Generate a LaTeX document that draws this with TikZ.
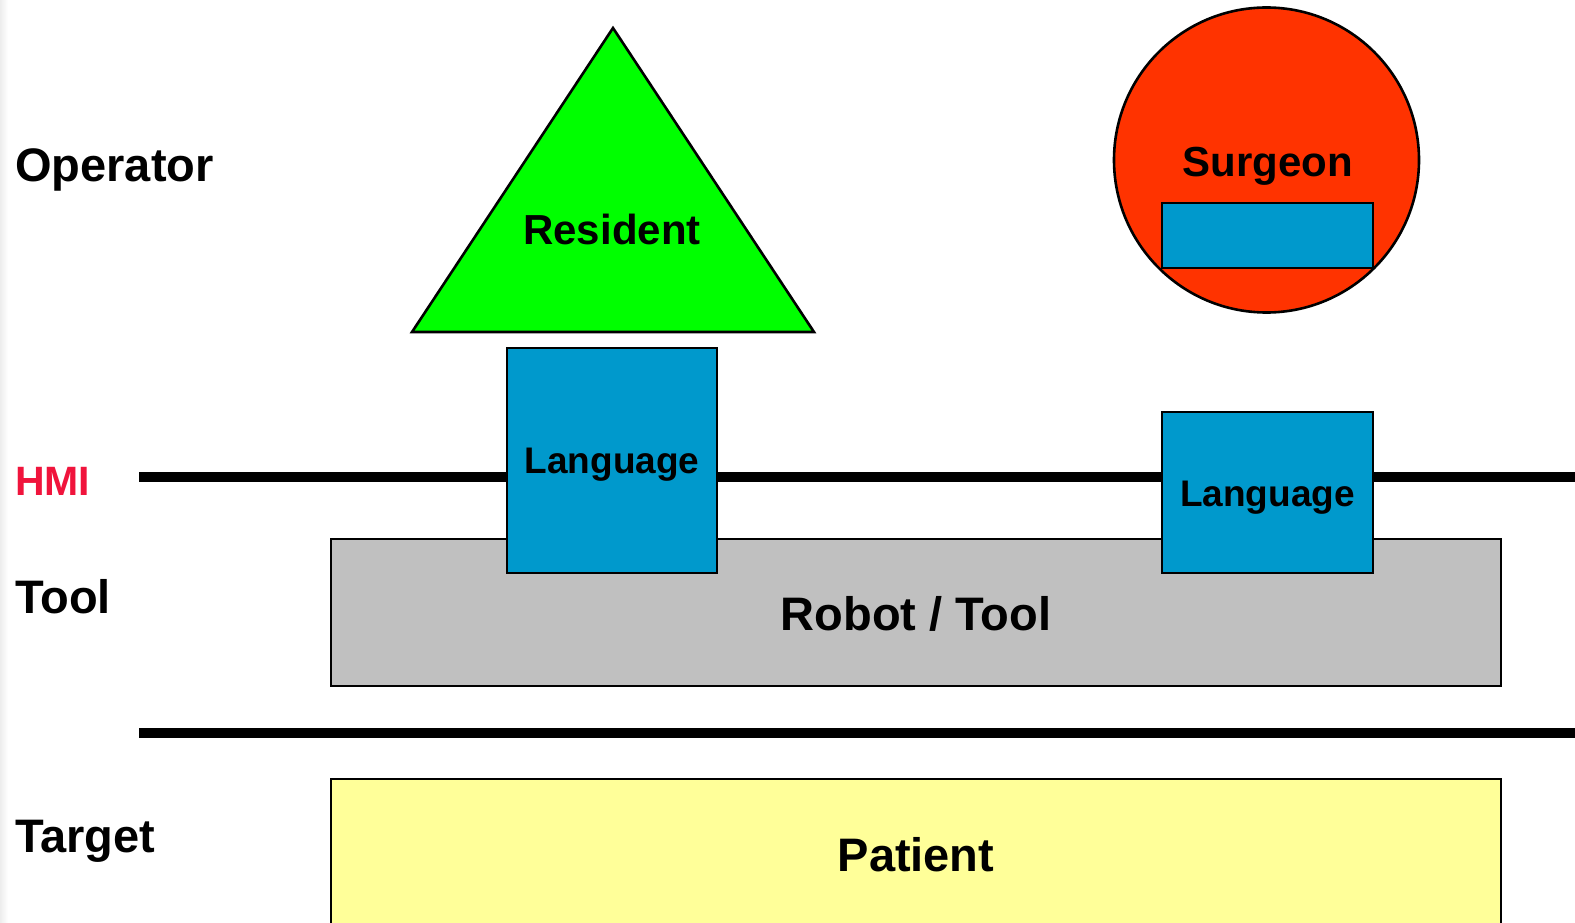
\documentclass[tikz,border=0pt]{standalone}
\usepackage{fontspec}
\setmainfont{Liberation Sans}
\definecolor{resgreen}{HTML}{00FF00}
\definecolor{surgred}{HTML}{FF3300}
\definecolor{langblue}{HTML}{0099CC}
\definecolor{toolgray}{HTML}{C0C0C0}
\definecolor{patyellow}{HTML}{FFFF99}
\definecolor{hmired}{HTML}{F0143C}
\tikzset{
  outline/.style={draw=black, line width=2.6pt, line join=miter},
  band/.style={draw=black, line width=10.5pt},
  rowlabel/.style={font=\bfseries\fontsize{47}{52}\selectfont, anchor=base west, inner sep=0pt},
  biglabel/.style={font=\bfseries\fontsize{47}{52}\selectfont, anchor=base, inner sep=0pt},
  rolelabel/.style={font=\bfseries\fontsize{42}{46}\selectfont, anchor=base, inner sep=0pt},
  langlabel/.style={font=\bfseries\fontsize{37}{40}\selectfont, anchor=base, inner sep=0pt},
}
\begin{document}
\begin{tikzpicture}[x=1pt, y=-1pt]
  \clip (0,0) rectangle (1575,923);
  \fill[white] (0,0) rectangle (1575,923);
  % faint shadow along the left edge
  \shade[left color=black!7, right color=white] (0,0) rectangle (8,923);

  % layer boundaries
  \coordinate (hmiL) at (139,477);
  \coordinate (hmiR) at (1575,477);
  \coordinate (tgtL) at (139,733);
  \coordinate (tgtR) at (1575,733);
  \draw[band] (hmiL) -- (hmiR);
  \draw[band] (tgtL) -- (tgtR);

  % robot / tool block
  \filldraw[outline, fill=toolgray] (331,539) rectangle (1501,686);
  \node[biglabel] (robot) at (916,630) {Robot / Tool};

  % patient block
  \filldraw[outline, fill=patyellow] (331,779) rectangle (1501,940);
  \node[biglabel] (patient) at (916,871) {Patient};

  % resident and its language interface
  \filldraw[outline, fill=resgreen] (613,28) -- (814,332) -- (412,332) -- cycle;
  \node[rolelabel] (resident) at (612,244) {Resident};
  \filldraw[outline, fill=langblue] (507,348) rectangle (717,573);
  \node[langlabel] (lang1) at (612,473) {Language};

  % surgeon and its language interface
  \filldraw[outline, fill=surgred] (1266.5,160) circle (152.5);
  \node[rolelabel] (surgeon) at (1267.5,177) {Surgeon};
  \filldraw[outline, fill=langblue] (1162,203) rectangle (1373,268);
  \filldraw[outline, fill=langblue] (1162,412) rectangle (1373,573);
  \node[langlabel] (lang2) at (1267.5,506) {Language};

  % layer names
  \node[rowlabel] (operator) at (15,182) {Operator};
  \node[rowlabel, text=hmired, font=\bfseries\fontsize{41}{45}\selectfont] (hmi) at (15,495) {HMI};
  \node[rowlabel] (tool) at (15,613) {Tool};
  \node[rowlabel] (target) at (15,852) {Target};
\end{tikzpicture}
\end{document}
